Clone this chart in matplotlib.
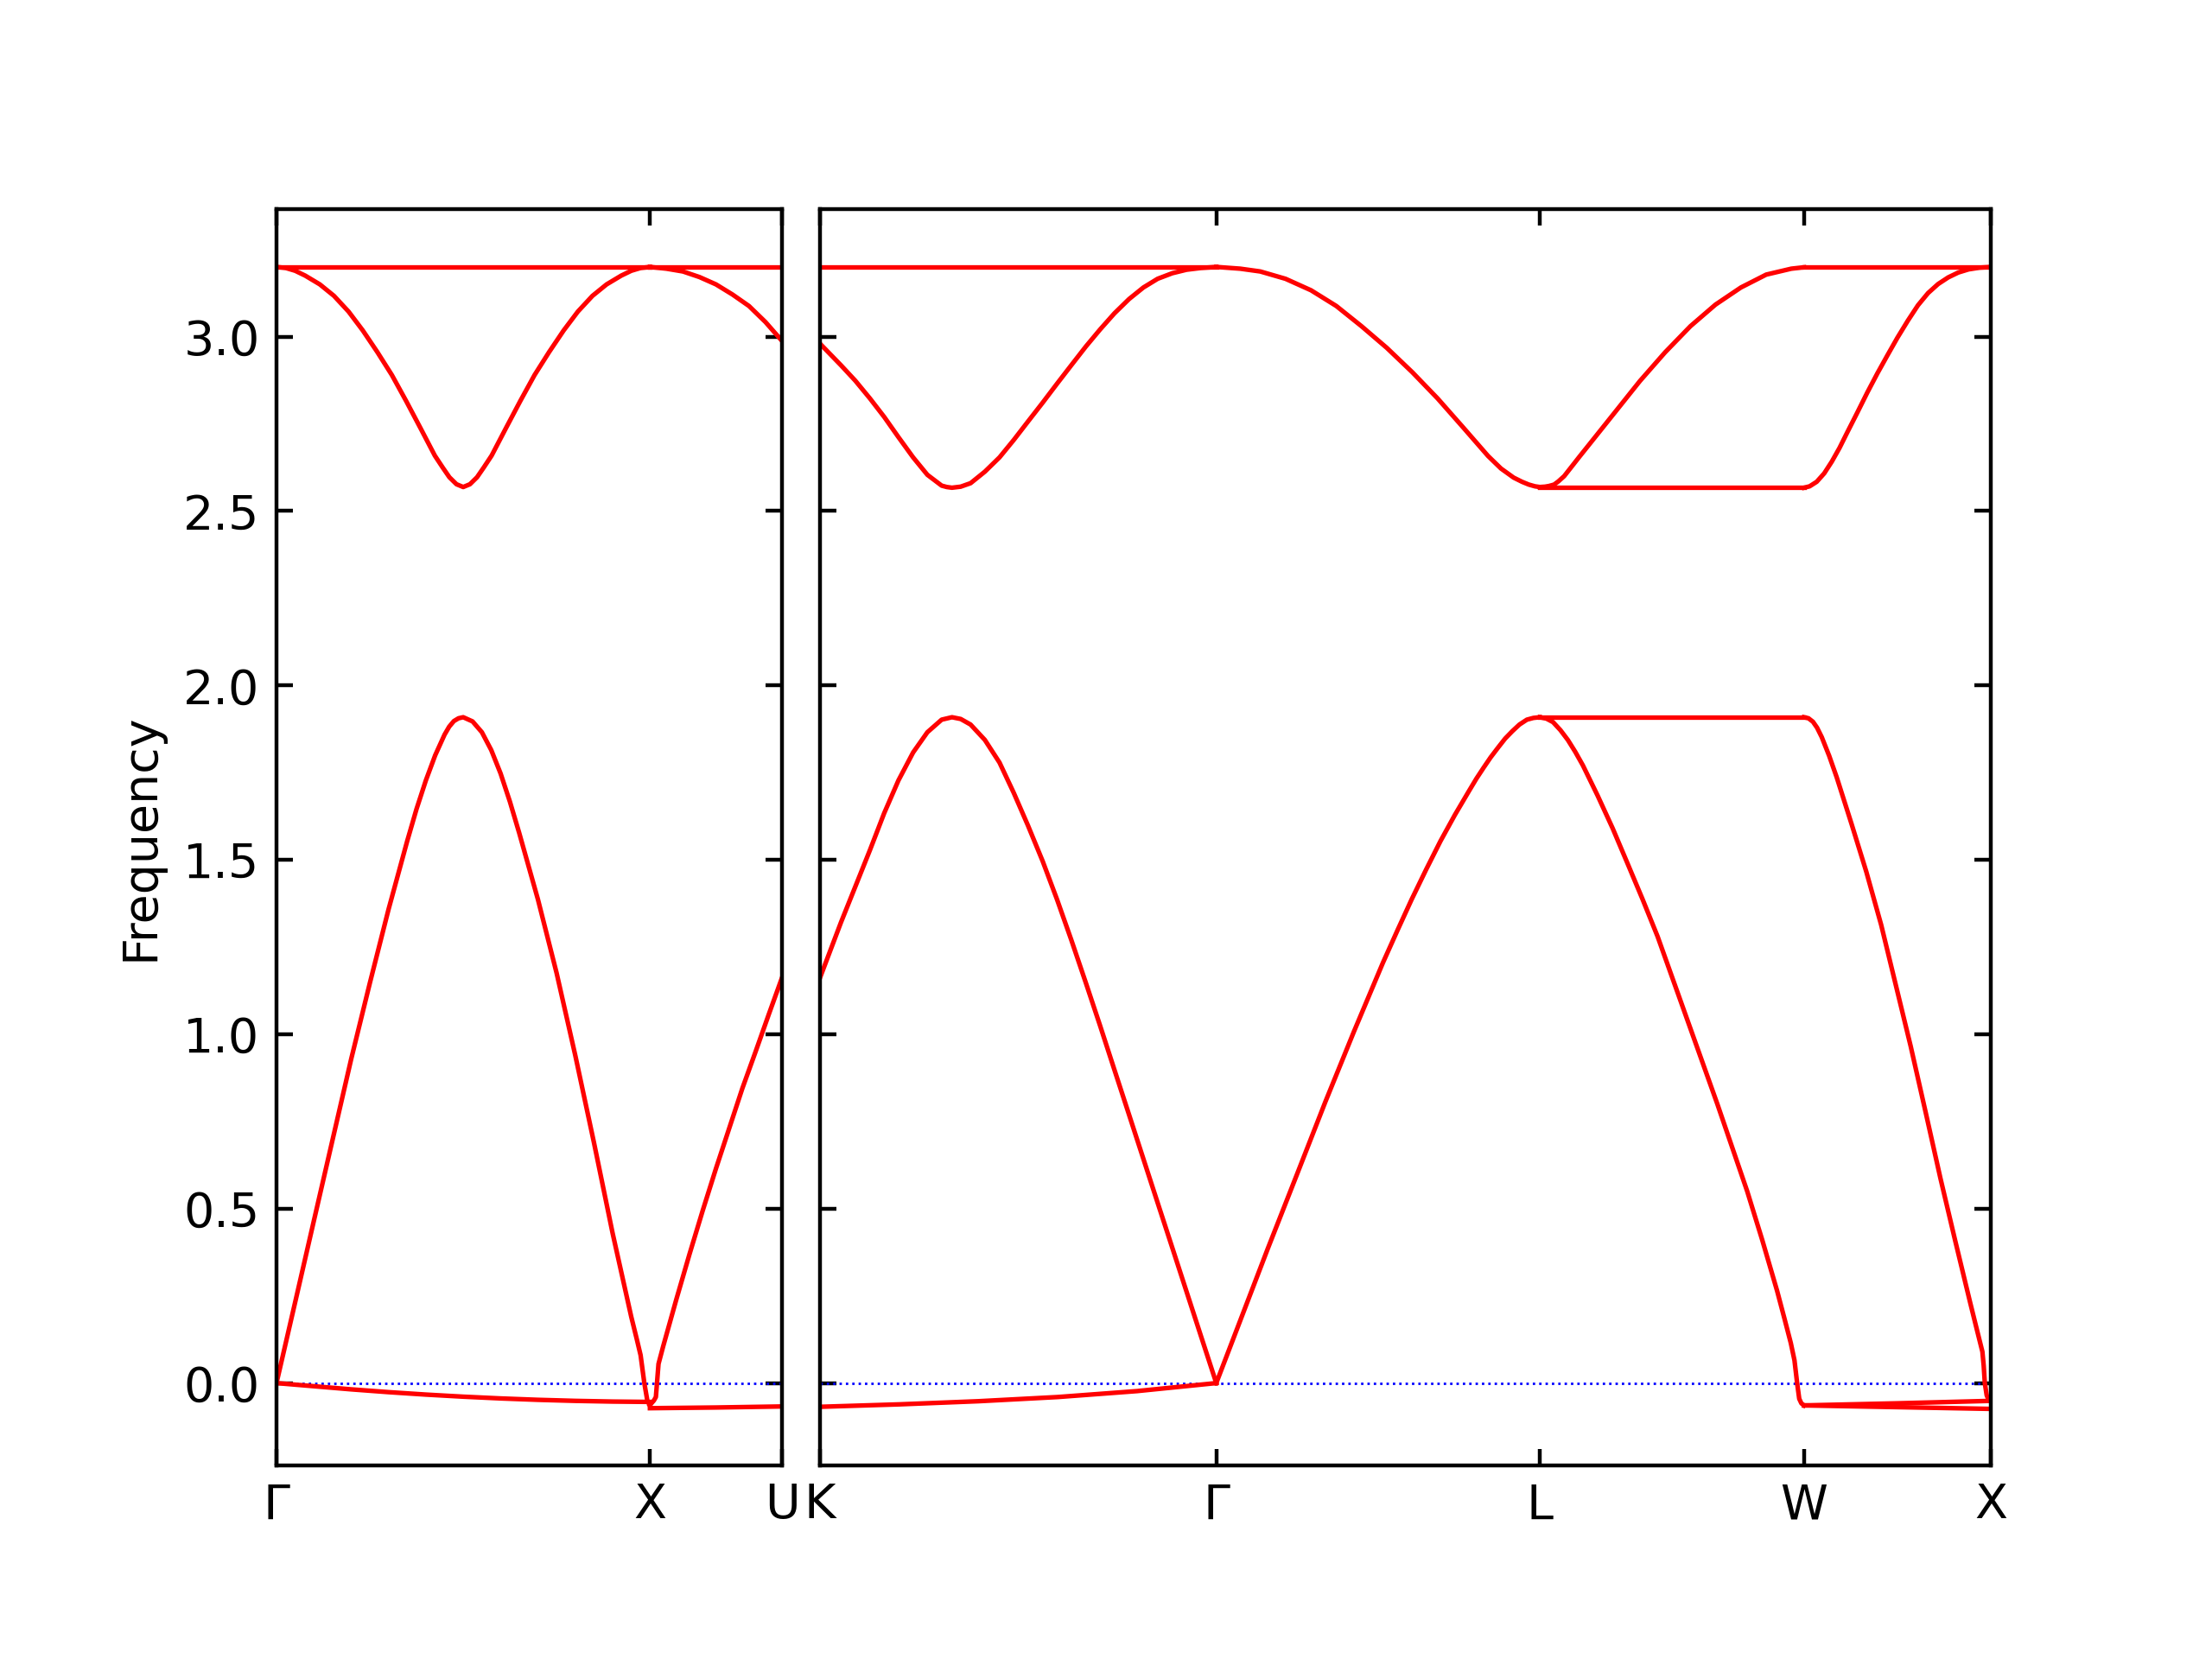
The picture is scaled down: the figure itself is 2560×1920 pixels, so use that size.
import matplotlib
matplotlib.use("Agg")
import matplotlib.pyplot as plt

# path segments (reciprocal-space lengths) and labels
left_lengths = [1.0, 0.3536]                   # G-X, X-U
right_lengths = [1.0607, 0.8660, 0.7071, 0.5]  # K-G, G-L, L-W, W-X
left_labels = ["Γ", "X", "U"]
right_labels = ["K", "Γ", "L", "W", "X"]

# ---- G-X ----
gx_top_q = [0.0, 1.0]
gx_top = [3.2, 3.2]
gx_dip_q = [0.0, 0.025, 0.05, 0.077, 0.116, 0.154, 0.193, 0.231, 0.27, 0.309, 0.347, 0.386, 0.424, 0.445,
            0.463, 0.482, 0.5, 0.518, 0.537, 0.555, 0.576, 0.614, 0.653, 0.691, 0.73, 0.769, 0.807, 0.846,
            0.884, 0.923, 0.95, 0.975, 1.0]
gx_dip = [3.200, 3.197, 3.189, 3.175, 3.150, 3.117, 3.072, 3.018, 2.956, 2.890, 2.816, 2.737, 2.659, 2.625,
          2.597, 2.577, 2.569, 2.577, 2.597, 2.625, 2.659, 2.737, 2.816, 2.890, 2.956, 3.018, 3.072, 3.117,
          3.150, 3.175, 3.189, 3.197, 3.200]
gx_ac_q = [0.0, 0.05, 0.1, 0.15, 0.2, 0.25, 0.3, 0.35, 0.375, 0.4, 0.425, 0.45, 0.4625, 0.475, 0.4875, 0.5,
           0.525, 0.55, 0.575, 0.6, 0.625, 0.65, 0.7, 0.75, 0.8, 0.85, 0.9, 0.95, 0.965, 0.975, 0.985, 0.993, 1.0]
gx_ac = [0.0, 0.232, 0.465, 0.697, 0.929, 1.147, 1.358, 1.554, 1.646, 1.728, 1.800, 1.859, 1.882, 1.898, 1.906, 1.909,
         1.897, 1.866, 1.815, 1.748, 1.667, 1.577, 1.387, 1.176, 0.940, 0.690, 0.430, 0.190, 0.125, 0.080, 0.0,
         -0.050, -0.065]
gx_low_q = [0.0, 0.1, 0.2, 0.3, 0.4, 0.5, 0.6, 0.7, 0.8, 0.9, 1.0]
gx_low = [0.0, -0.009, -0.018, -0.026, -0.033, -0.039, -0.044, -0.048, -0.051, -0.053, -0.054]

# ---- X-U ----
xu_top_q = [0.0, 1.0]
xu_top = [3.2, 3.2]
xu_upper_q = [0.0, 0.125, 0.25, 0.375, 0.5, 0.625, 0.75, 0.875, 1.0]
xu_upper = [3.200, 3.195, 3.187, 3.171, 3.150, 3.121, 3.088, 3.042, 2.988]
xu_ac_q = [0.0, 0.03, 0.045, 0.065, 0.1, 0.2, 0.3, 0.4, 0.5, 0.6, 0.7, 0.8, 0.9, 1.0]
xu_ac = [-0.063, -0.050, -0.040, 0.055, 0.105, 0.240, 0.370, 0.495, 0.615, 0.730, 0.845, 0.950, 1.057, 1.162]
xu_low_q = [0.0, 0.5, 1.0]
xu_low = [-0.072, -0.070, -0.067]

# ---- K-G ----
kg_top_q = [0.0, 1.0]
kg_top = [3.2, 3.2]
kg_dip_q = [0.0, 0.053, 0.089, 0.126, 0.162, 0.198, 0.235, 0.271, 0.307, 0.32, 0.333, 0.355, 0.38, 0.416,
            0.453, 0.489, 0.525, 0.562, 0.598, 0.634, 0.671, 0.707, 0.743, 0.78, 0.816, 0.852, 0.889, 0.925,
            0.961, 1.0]
kg_dip = [2.980, 2.918, 2.874, 2.823, 2.770, 2.712, 2.654, 2.604, 2.573, 2.569, 2.567, 2.570, 2.580, 2.613,
          2.654, 2.704, 2.757, 2.811, 2.865, 2.918, 2.972, 3.021, 3.067, 3.108, 3.141, 3.166, 3.182, 3.192,
          3.197, 3.200]
kg_ac_q = [0.0, 0.053, 0.089, 0.126, 0.162, 0.198, 0.235, 0.271, 0.307, 0.333, 0.355, 0.38, 0.416, 0.453,
           0.489, 0.525, 0.562, 0.598, 0.634, 0.671, 0.707, 0.743, 0.78, 0.816, 0.852, 0.889, 0.925, 0.961, 1.0]
kg_ac = [1.162, 1.321, 1.423, 1.528, 1.634, 1.728, 1.808, 1.866, 1.902, 1.909, 1.904, 1.888, 1.844, 1.779,
         1.692, 1.598, 1.496, 1.387, 1.271, 1.147, 1.024, 0.898, 0.769, 0.643, 0.517, 0.388, 0.262, 0.136, 0.0]
kg_low_q = [0.0, 0.2, 0.4, 0.6, 0.8, 1.0]
kg_low = [-0.068, -0.061, -0.052, -0.040, -0.023, 0.0]

# ---- G-L ----
gl_ac_q = [0.0, 0.069, 0.159, 0.248, 0.337, 0.426, 0.515, 0.56, 0.604, 0.649, 0.693, 0.7375, 0.782,
           0.804, 0.826, 0.848, 0.871, 0.893, 0.915, 0.937, 0.96, 0.98, 1.0]
gl_ac = [0.0, 0.167, 0.385, 0.595, 0.806, 1.009, 1.205, 1.298, 1.387, 1.473, 1.554, 1.629, 1.699,
         1.733, 1.764, 1.794, 1.822, 1.848, 1.869, 1.888, 1.902, 1.907, 1.909]
gl_upper_q = [0.0, 0.074, 0.136, 0.214, 0.293, 0.371, 0.449, 0.527, 0.606, 0.684, 0.762, 0.84, 0.88,
              0.919, 0.945, 0.966, 0.985, 1.0]
gl_upper = [3.200, 3.195, 3.187, 3.166, 3.133, 3.088, 3.030, 2.968, 2.898, 2.823, 2.741, 2.658, 2.622,
            2.596, 2.584, 2.576, 2.571, 2.569]

# ---- L-W ----
lw_flat_hi_q = [0.0, 1.0]
lw_flat_hi = [2.567, 2.567]
lw_flat_lo_q = [0.0, 1.0]
lw_flat_lo = [1.909, 1.909]
lw_rise_q = [0.0, 0.02, 0.035, 0.054, 0.07, 0.092, 0.12, 0.15, 0.187, 0.283, 0.379, 0.474, 0.57, 0.665,
             0.761, 0.857, 0.952, 1.0]
lw_rise = [2.569, 2.570, 2.572, 2.576, 2.585, 2.600, 2.627, 2.656, 2.691, 2.782, 2.873, 2.955, 3.030, 3.092,
           3.141, 3.178, 3.195, 3.199]
lw_fall_q = [0.0, 0.025, 0.05, 0.078, 0.106, 0.134, 0.163, 0.219, 0.276, 0.333, 0.389, 0.446, 0.559, 0.672,
             0.785, 0.842, 0.898, 0.926, 0.95, 0.964, 0.974, 0.982, 0.99, 1.0]
lw_fall = [1.909, 1.905, 1.895, 1.872, 1.844, 1.810, 1.771, 1.684, 1.590, 1.488, 1.387, 1.280, 1.040, 0.800,
           0.550, 0.410, 0.265, 0.185, 0.115, 0.065, 0.0, -0.045, -0.058, -0.064]

# ---- W-X ----
wx_top_q = [0.0, 1.0]
wx_top = [3.2, 3.2]
wx_rise_q = [0.0, 0.03, 0.068, 0.108, 0.149, 0.19, 0.23, 0.285, 0.339, 0.393, 0.447, 0.5, 0.556, 0.61,
             0.664, 0.718, 0.772, 0.826, 0.881, 0.94, 1.0]
wx_rise = [2.567, 2.571, 2.584, 2.608, 2.642, 2.681, 2.724, 2.782, 2.840, 2.895, 2.947, 2.997, 3.046, 3.090,
           3.125, 3.151, 3.170, 3.184, 3.193, 3.198, 3.200]
wx_fall_q = [0.0, 0.024, 0.048, 0.07, 0.095, 0.135, 0.175, 0.254, 0.333, 0.413, 0.492, 0.571, 0.651, 0.73,
             0.81, 0.889, 0.927, 0.955, 0.962, 0.968, 0.978, 0.99, 1.0]
wx_fall = [1.909, 1.906, 1.896, 1.879, 1.852, 1.798, 1.737, 1.604, 1.467, 1.314, 1.140, 0.966, 0.777, 0.588,
           0.407, 0.232, 0.150, 0.090, 0.050, 0.0, -0.035, -0.050, -0.052]
wx_neg_a_q = [0.0, 0.5, 1.0]
wx_neg_a = [-0.064, -0.058, -0.051]
wx_neg_b_q = [0.0, 0.5, 1.0]
wx_neg_b = [-0.064, -0.069, -0.074]

left_bands = [
    [(gx_top_q, gx_top), (gx_dip_q, gx_dip), (gx_ac_q, gx_ac), (gx_low_q, gx_low)],
    [(xu_top_q, xu_top), (xu_upper_q, xu_upper), (xu_ac_q, xu_ac), (xu_low_q, xu_low)],
]
right_bands = [
    [(kg_top_q, kg_top), (kg_dip_q, kg_dip), (kg_ac_q, kg_ac), (kg_low_q, kg_low)],
    [(gl_ac_q, gl_ac), (gl_upper_q, gl_upper)],
    [(lw_flat_hi_q, lw_flat_hi), (lw_flat_lo_q, lw_flat_lo), (lw_rise_q, lw_rise), (lw_fall_q, lw_fall)],
    [(wx_top_q, wx_top), (wx_rise_q, wx_rise), (wx_fall_q, wx_fall), (wx_neg_a_q, wx_neg_a), (wx_neg_b_q, wx_neg_b)],
]


def draw_path(ax, lengths, bands, labels):
    starts = [0.0]
    for length in lengths:
        starts.append(starts[-1] + length)

    ax.axhline(0, color="blue", linestyle=":", linewidth=0.5)
    for start, length, seg in zip(starts, lengths, bands):
        for q, vals in seg:
            x = [start + t * length for t in q]
            ax.plot(x, vals, color="red", linewidth=0.95, solid_joinstyle="round")

    ax.set_xlim(0, starts[-1])
    ax.set_ylim(-0.236, 3.366)
    ax.set_xticks(starts)
    ax.set_xticklabels(labels)
    ax.tick_params(direction="in", top=True, right=True)


fig = plt.figure(figsize=(6.4, 4.8), dpi=400)
ax1 = fig.add_axes([0.125, 0.1167, 585 / 2560, 0.7573])
ax2 = fig.add_axes([949 / 2560, 0.1167, 1355 / 2560, 0.7573])

draw_path(ax1, left_lengths, left_bands, left_labels)
draw_path(ax2, right_lengths, right_bands, right_labels)

ax1.set_ylabel("Frequency")
ax2.tick_params(labelleft=False)

fig.savefig("out.png", dpi=400)
